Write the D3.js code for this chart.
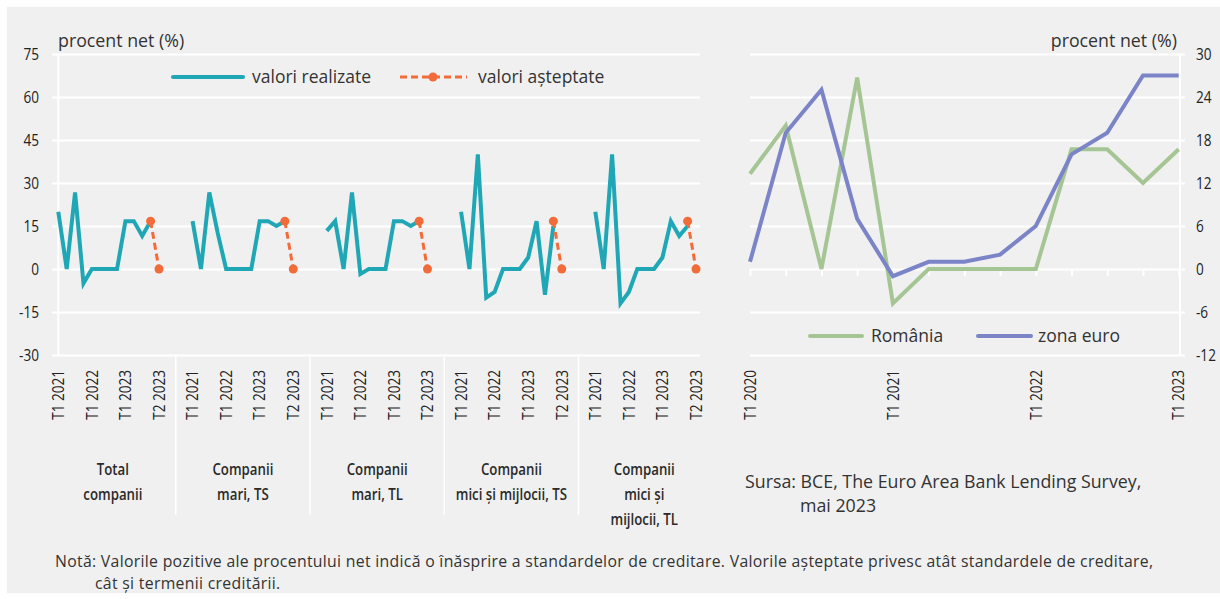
<!DOCTYPE html>
<html>
<head>
<meta charset="utf-8">
<script src="https://cdn.jsdelivr.net/npm/d3@7/dist/d3.min.js"></script>
<style>
    body { margin: 0; background: #ffffff; }
    text { font-family: "Open Sans", sans-serif; fill: #333333; }
    .narrow { font-family: "Open Sans", sans-serif; fill: #222222; }
    .grid line { stroke: #ffffff; stroke-width: 2; }
</style>
</head>
<body>
<div id="chart"></div>
<script>

// ---- data ----
var groupLabels = [
    ["Total", "companii"],
    ["Companii", "mari, TS"],
    ["Companii", "mari, TL"],
    ["Companii", "mici și mijlocii, TS"],
    ["Companii", "mici și", "mijlocii, TL"]
];

// realized values, one row per group (12 quarters each)
var realized = [
    [20, 0, 26.7, -5, 0, 0, 0, 0, 16.7, 16.7, 11.5, 16.7],
    [16.7, 0, 26.7, 12.5, 0, 0, 0, 0, 16.7, 16.7, 15, 16.7],
    [13.3, 16.7, 0, 26.7, -1.7, 0, 0, 0, 16.7, 16.7, 15, 16.7],
    [20, 0, 40, -10, -8, 0, 0, 0, 4, 16.7, -9, 15],
    [20, 0, 40, -12, -8, 0, 0, 0, 4, 16.7, 11.5, 15]
];

// expected values (last realized quarter -> T2 2023)
var expected = [
    [16.7, 0],
    [16.7, 0],
    [16.7, 0],
    [16.7, 0],
    [16.7, 0]
];

var leftTickPos = [0, 4, 8, 12];
var leftTickLabels = ["T1 2021", "T1 2022", "T1 2023", "T2 2023"];
var leftYTicks = [-30, -15, 0, 15, 30, 45, 60, 75];

var quarters = ["T1 2020", "T2 2020", "T3 2020", "T4 2020",
    "T1 2021", "T2 2021", "T3 2021", "T4 2021",
    "T1 2022", "T2 2022", "T3 2022", "T4 2022", "T1 2023"];
var romania = [13.3, 20, 0, 26.7, -4.8, 0, 0, 0, 0, 16.7, 16.7, 12, 16.7];
var euroArea = [1, 19, 25, 7, -1, 1, 1, 2, 6, 16, 19, 27, 27];
var rightYTicks = [-12, -6, 0, 6, 12, 18, 24, 30];

var colors = { realized: "#20a7b6", expected: "#f26c3a", romania: "#a6c594", euro: "#7c84c8" };

// the original uses a condensed face, squeeze Open Sans horizontally
var squeeze = 0.8;


var svg = d3.select("#chart").append("svg")
    .attr("width", 1220)
    .attr("height", 599);

svg.append("rect")
    .attr("x", 7).attr("y", 7)
    .attr("width", 1213).attr("height", 586)
    .attr("fill", "#f0f0f0");


/*
 * Left panel: realized vs expected, five company groups
 */
ExpectationsVis = function(_svg){
    this.svg = _svg;
    this.slotsPerGroup = 16;
    this.initVis();
}

ExpectationsVis.prototype.initVis = function(){
    var vis = this;

    vis.g = vis.svg.append("g");

    var nSlots = (groupLabels.length - 1) * vis.slotsPerGroup + 12;
    vis.x = d3.scaleLinear().domain([0, nSlots]).range([58.3, 696]);
    vis.y = d3.scaleLinear().domain([-30, 75]).range([355, 54]);

    // grid lines
    vis.g.append("g")
        .attr("class", "grid")
        .attr("transform", "translate(700,0)")
        .call(d3.axisLeft(vis.y).tickValues(leftYTicks).tickSize(700 - 52).tickFormat(""))
        .call(g => g.select(".domain").remove());

    // y labels
    vis.g.selectAll(".y-label")
        .data(leftYTicks)
        .enter().append("text")
        .attr("class", "y-label narrow")
        .attr("transform", d => "translate(39," + vis.y(d) + ") scale(" + squeeze + ",1)")
        .attr("text-anchor", "end")
        .attr("dy", "0.35em")
        .style("font-size", "17px")
        .text(d => d);

    vis.g.append("line")
        .attr("x1", vis.x(0)).attr("x2", vis.x(0))
        .attr("y1", vis.y(75)).attr("y2", vis.y(-30))
        .attr("stroke", "#fff").attr("stroke-width", 2);

    // separators between groups
    d3.range(1, groupLabels.length).forEach(function(gi){
        var sx = vis.x(gi * vis.slotsPerGroup - 2);
        vis.g.append("line")
            .attr("x1", sx).attr("x2", sx)
            .attr("y1", vis.y(-30)).attr("y2", 515)
            .attr("stroke", "#fff").attr("stroke-width", 1.5);
    });

    vis.g.append("text")
        .attr("x", 58).attr("y", 47)
        .style("font-size", "17.8px")
        .text("procent net (%)");

    // legend
    var leg = vis.g.append("g").attr("transform", "translate(0,77)");
    leg.append("line").attr("x1", 173).attr("x2", 243)
        .attr("stroke", colors.realized).attr("stroke-width", 4).attr("stroke-linecap", "round");
    leg.append("text").attr("x", 252).attr("dy", "0.35em").style("font-size", "17.5px").text("valori realizate");
    leg.append("line").attr("x1", 400).attr("x2", 467)
        .attr("stroke", colors.expected).attr("stroke-width", 3).attr("stroke-dasharray", "7,4");
    leg.append("circle").attr("cx", 433).attr("r", 4.5).attr("fill", colors.expected);
    leg.append("text").attr("x", 478).attr("dy", "0.35em").style("font-size", "17.5px").text("valori așteptate");

    vis.wrangleData();
}

ExpectationsVis.prototype.wrangleData = function(){
    var vis = this;

    vis.displayData = realized.map(function(vals, gi){
        var offset = gi * vis.slotsPerGroup;
        return {
            label: groupLabels[gi],
            offset: offset,
            realized: vals.map((v, i) => ({ slot: offset + i, value: v })),
            expected: expected[gi].map((v, i) => ({ slot: offset + vals.length - 1 + i, value: v }))
        };
    });

    vis.updateVis();
}

ExpectationsVis.prototype.updateVis = function(){
    var vis = this;

    var line = d3.line()
        .x(d => vis.x(d.slot))
        .y(d => vis.y(d.value));

    var groups = vis.g.selectAll(".company-group")
        .data(vis.displayData)
        .enter().append("g")
        .attr("class", "company-group");

    groups.append("path")
        .attr("d", d => line(d.realized))
        .attr("fill", "none")
        .attr("stroke", colors.realized)
        .attr("stroke-width", 4)
        .attr("stroke-linejoin", "miter");

    groups.append("path")
        .attr("d", d => line(d.expected))
        .attr("fill", "none")
        .attr("stroke", colors.expected)
        .attr("stroke-width", 3)
        .attr("stroke-dasharray", "7,4");

    groups.selectAll("circle")
        .data(d => d.expected)
        .enter().append("circle")
        .attr("cx", d => vis.x(d.slot))
        .attr("cy", d => vis.y(d.value))
        .attr("r", 4.5)
        .attr("fill", colors.expected);

    // rotated quarter labels
    groups.each(function(d){
        var grp = d3.select(this);
        leftTickPos.forEach(function(p, i){
            grp.append("text")
                .attr("class", "narrow")
                .attr("transform", "translate(" + vis.x(d.offset + p) + ",370) rotate(-90) scale(0.85,1)")
                .attr("text-anchor", "end")
                .attr("dy", "0.36em")
                .style("font-size", "16px")
                .text(leftTickLabels[i]);
        });
    });

    // group names under the labels
    groups.each(function(d, gi){
        var left = gi == 0 ? 50 : vis.x(d.offset - 2);
        var right = gi == groupLabels.length - 1 ? 710 : vis.x(d.offset + vis.slotsPerGroup - 2);
        var t = d3.select(this).append("text")
            .attr("class", "narrow")
            .attr("transform", "translate(" + (left + right) / 2 + ",0) scale(0.78,1)")
            .attr("text-anchor", "middle")
            .style("font-size", "17px")
            .style("font-weight", "600")
            .style("fill", "#2a2a2a");
        d.label.forEach(function(s, li){
            t.append("tspan")
                .attr("x", 0)
                .attr("y", 475 + li * 25)
                .text(s);
        });
    });
}


/*
 * Right panel: Romania vs euro area
 */
ComparisonVis = function(_svg){
    this.svg = _svg;
    this.initVis();
}

ComparisonVis.prototype.initVis = function(){
    var vis = this;

    vis.g = vis.svg.append("g");

    vis.x = d3.scalePoint().domain(quarters).range([750, 1178.7]);
    vis.y = d3.scaleLinear().domain([-12, 30]).range([355, 54]);

    vis.g.append("g")
        .attr("class", "grid")
        .attr("transform", "translate(1185,0)")
        .call(d3.axisLeft(vis.y).tickValues(rightYTicks).tickSize(1185 - 750).tickFormat(""))
        .call(g => g.select(".domain").remove());

    vis.g.append("line")
        .attr("x1", 1180).attr("x2", 1180)
        .attr("y1", vis.y(30)).attr("y2", vis.y(-12))
        .attr("stroke", "#fff").attr("stroke-width", 2);

    // quarter ticks on the zero line
    vis.g.append("g")
        .attr("class", "grid")
        .attr("transform", "translate(0," + vis.y(0) + ")")
        .call(d3.axisBottom(vis.x).tickSize(7).tickFormat(""))
        .call(g => g.select(".domain").remove());

    vis.g.selectAll(".y-label")
        .data(rightYTicks)
        .enter().append("text")
        .attr("class", "y-label narrow")
        .attr("transform", d => "translate(1196," + vis.y(d) + ") scale(" + squeeze + ",1)")
        .attr("dy", "0.35em")
        .style("font-size", "17px")
        .text(d => d);

    vis.g.selectAll(".x-label")
        .data(quarters.filter((q, i) => i % 4 == 0))
        .enter().append("text")
        .attr("class", "x-label narrow")
        .attr("transform", d => "translate(" + vis.x(d) + ",370) rotate(-90) scale(0.85,1)")
        .attr("text-anchor", "end")
        .attr("dy", "0.36em")
        .style("font-size", "16px")
        .text(d => d);

    vis.g.append("text")
        .attr("x", 1177).attr("y", 47)
        .attr("text-anchor", "end")
        .style("font-size", "17.8px")
        .text("procent net (%)");

    var leg = vis.g.append("g").attr("transform", "translate(0,336)");
    leg.append("line").attr("x1", 810).attr("x2", 862)
        .attr("stroke", colors.romania).attr("stroke-width", 4).attr("stroke-linecap", "round");
    leg.append("text").attr("x", 871).attr("dy", "0.35em").style("font-size", "17.5px").text("România");
    leg.append("line").attr("x1", 978).attr("x2", 1031)
        .attr("stroke", colors.euro).attr("stroke-width", 4).attr("stroke-linecap", "round");
    leg.append("text").attr("x", 1038).attr("dy", "0.35em").style("font-size", "17.5px").text("zona euro");

    vis.g.append("text")
        .attr("x", 745).attr("y", 488)
        .style("font-size", "17.8px")
        .text("Sursa: BCE, The Euro Area Bank Lending Survey,");
    vis.g.append("text")
        .attr("x", 800).attr("y", 512)
        .style("font-size", "17.8px")
        .text("mai 2023");

    vis.wrangleData();
}

ComparisonVis.prototype.wrangleData = function(){
    var vis = this;
    vis.displayData = [
        { name: "romania", values: quarters.map((q, i) => ({ q: q, value: romania[i] })) },
        { name: "euro", values: quarters.map((q, i) => ({ q: q, value: euroArea[i] })) }
    ];
    vis.updateVis();
}

ComparisonVis.prototype.updateVis = function(){
    var vis = this;

    var line = d3.line()
        .x(d => vis.x(d.q))
        .y(d => vis.y(d.value));

    vis.g.selectAll(".series")
        .data(vis.displayData)
        .enter().append("path")
        .attr("class", "series")
        .attr("d", d => line(d.values))
        .attr("fill", "none")
        .attr("stroke", d => colors[d.name])
        .attr("stroke-width", 4);
}


var leftVis = new ExpectationsVis(svg);
var rightVis = new ComparisonVis(svg);

// footnote
svg.append("text")
    .attr("x", 55).attr("y", 567)
    .style("font-size", "15.8px")
    .style("letter-spacing", "0.3px")
    .text("Notă: Valorile pozitive ale procentului net indică o înăsprire a standardelor de creditare. Valorile așteptate privesc atât standardele de creditare,");
svg.append("text")
    .attr("x", 95).attr("y", 589)
    .style("font-size", "15.8px")
    .style("letter-spacing", "0.3px")
    .text("cât și termenii creditării.");

</script>
</body>
</html>
